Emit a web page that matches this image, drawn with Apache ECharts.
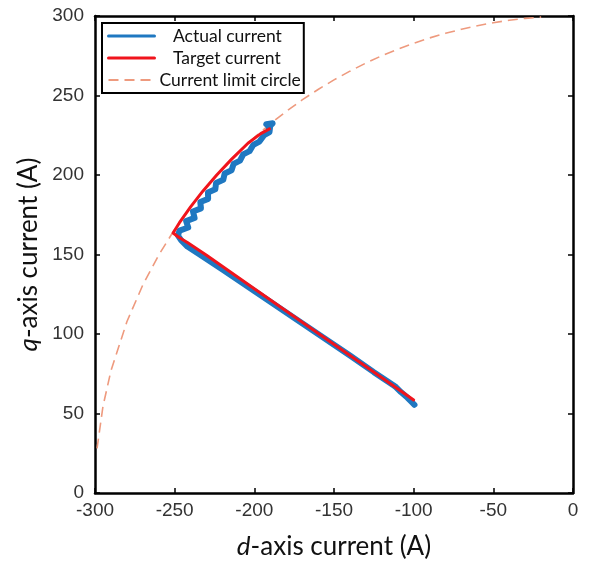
<!DOCTYPE html>
<html>
<head>
<meta charset="utf-8">
<script src="https://cdn.jsdelivr.net/npm/echarts@6/dist/echarts.min.js"></script>
<style>
html,body{margin:0;padding:0;background:#fff;}
#chart{width:589px;height:562px;}
</style>
</head>
<body>
<div id="chart"></div>
<script>
// ---- data ----
const xTicks = [-300, -250, -200, -150, -100, -50, 0];
const yTicks = [0, 50, 100, 150, 200, 250, 300];

const seriesNames = ['Actual current', 'Target current', 'Current limit circle'];

// Actual current (d, q)
const actualCurrent = [
  [-99.5,55.5],[-101,57],[-104,60],[-108,63.5],[-111,66.5],[-113,68],[-116,70],
  [-125,76],[-140,86.5],[-160,100],[-180,113.5],[-200,127],[-220,140.5],[-235,150.5],
  [-242,155],[-246,159],[-248,162],
  [-246.9,165],[-241.5,167],[-242.8,171],[-237.5,173],[-238.5,177],[-233.5,179],
  [-233.9,183],[-229,185],[-229.1,189],[-224.5,191],[-224,195],[-219.5,197],
  [-218.6,201],[-214.3,203],[-213,207],[-209,209],[-207,213],[-203,215],
  [-200.6,219],[-196.8,221],[-193.9,225],[-190.5,227],[-190,231],
  [-192.5,232],[-188.5,232.5],[-191,230]
];

// Target current (d, q)
const targetCurrent = [
  [-100,58.5],[-130,79.5],[-160,100.5],[-200,128.5],[-230,149.5],[-242,157.5],
  [-247,160.5],[-251,163.5],[-247,170],[-240,180],[-232.2,190],[-223.6,200],
  [-214.2,210],[-204,220],[-196,226],[-190.5,229]
];

// Current limit circle (d, q)
const limitCircle = [
  [-298.7,28],[-295,54.5],[-290,76.8],[-280,107.7],[-270,130.8],[-260,149.7],
  [-250,165.8],[-240,180],[-230,192.6],[-220,204],[-210,214.2],[-200,223.6],
  [-190,232.2],[-180,240],[-170,247.2],[-160,253.8],[-150,259.8],[-140,265.3],
  [-130,270.4],[-120,275],[-110,279.1],[-100,282.8],[-90,286.2],[-80,289.1],
  [-70,291.7],[-60,293.9],[-50,295.8],[-40,297.3],[-30,298.5],[-20,299.3]
];

// ---- chart ----
const chart = echarts.init(document.getElementById('chart'), null, {renderer: 'canvas'});
const frame = {show: true, onZero: false, lineStyle: {color: '#000', width: 2.5}};
const tick = {show: true, inside: true, length: 5, lineStyle: {color: '#000', width: 1.5}};
const labelFont = {fontFamily: 'Liberation Sans', fontSize: 19, color: '#333'};
const titleFont = {fontFamily: 'Lato', fontSize: 26, color: '#111',
  rich: {i: {fontFamily: 'Lato', fontSize: 26, fontStyle: 'italic', color: '#111'}}};

const xMin = xTicks[0], xMax = xTicks[xTicks.length - 1], xStep = xTicks[1] - xTicks[0];
const yMin = yTicks[0], yMax = yTicks[yTicks.length - 1], yStep = yTicks[1] - yTicks[0];

chart.setOption({
  animation: false,
  backgroundColor: '#fff',
  grid: {left: 95, right: 16, top: 16, bottom: 69, containLabel: false, outerBoundsMode: 'none'},
  legend: {
    data: [
      {name: seriesNames[0], lineStyle: {width: 3}},
      {name: seriesNames[1], lineStyle: {width: 3}},
      {name: seriesNames[2], lineStyle: {width: 2}}
    ],
    orient: 'vertical',
    left: 102, top: 23,
    backgroundColor: '#fff',
    borderColor: '#000', borderWidth: 2, borderRadius: 0,
    padding: [4, 3, 4, 5],
    itemWidth: 46, itemHeight: 15, itemGap: 4,
    itemStyle: {opacity: 0},
    formatter: function (n) { return n === 'Current limit circle' ? n : '   ' + n; },
    textStyle: {fontFamily: 'Lato', fontSize: 17.5, color: '#111'}
  },
  xAxis: [{
    type: 'value', min: xMin, max: xMax, interval: xStep, position: 'bottom',
    name: '{i|d}-axis current (A)', nameLocation: 'middle', nameGap: 41,
    nameTextStyle: titleFont,
    axisLine: frame, axisTick: tick, splitLine: {show: false},
    axisLabel: Object.assign({margin: 8}, labelFont)
  }, {
    type: 'value', min: xMin, max: xMax, interval: xStep, position: 'top',
    axisLine: frame, axisTick: tick, splitLine: {show: false}, axisLabel: {show: false}
  }],
  yAxis: [{
    type: 'value', min: yMin, max: yMax, interval: yStep, position: 'left',
    name: '{i|q}-axis current (A)', nameLocation: 'middle', nameGap: 47,
    nameTextStyle: titleFont,
    axisLine: frame, axisTick: tick, splitLine: {show: false},
    axisLabel: Object.assign({margin: 11}, labelFont)
  }, {
    type: 'value', min: yMin, max: yMax, interval: yStep, position: 'right',
    axisLine: frame, axisTick: tick, splitLine: {show: false}, axisLabel: {show: false}
  }],
  series: [{
    name: seriesNames[2], type: 'line', data: limitCircle, z: 1,
    symbol: 'none', smooth: false, clip: true,
    lineStyle: {color: '#EE9A7E', width: 1.6, type: [10, 6]},
    itemStyle: {color: '#EE9A7E'}
  }, {
    name: seriesNames[0], type: 'line', data: actualCurrent, z: 2,
    symbol: 'none',
    lineStyle: {color: '#1F78C1', width: 6, cap: 'round', join: 'round'},
    itemStyle: {color: '#1F78C1'}
  }, {
    name: seriesNames[1], type: 'line', data: targetCurrent, z: 3,
    symbol: 'none',
    lineStyle: {color: '#F0141C', width: 3, cap: 'round', join: 'round'},
    itemStyle: {color: '#F0141C'}
  }]
});
</script>
</body>
</html>
